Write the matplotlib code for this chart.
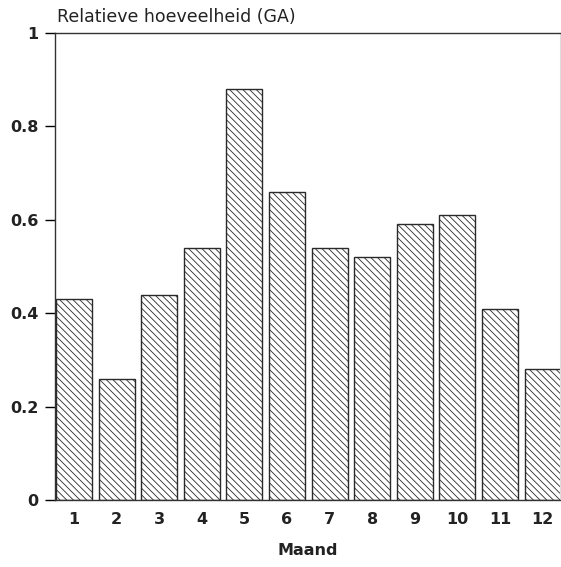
import matplotlib
matplotlib.use("Agg")
import matplotlib.pyplot as plt

months = [1, 2, 3, 4, 5, 6, 7, 8, 9, 10, 11, 12]
month_labels = ["1", "2", "3", "4", "5", "6", "7", "8", "9", "10", "11", "12"]
values = [0.43, 0.26, 0.44, 0.54, 0.88, 0.66, 0.54, 0.52, 0.59, 0.61, 0.41, 0.28]
y_ticks = [0, 0.2, 0.4, 0.6, 0.8, 1]
y_tick_labels = ["0", "0.2", "0.4", "0.6", "0.8", "1"]

plt.rcParams['font.family'] = ['DejaVu Sans']
plt.rcParams['hatch.linewidth'] = 0.6

fig = plt.figure(figsize=(5.61, 5.67), dpi=100)
ax = fig.add_axes([55 / 561, 67 / 567, 505 / 561, 467 / 567])

ax.bar(months, values, width=0.845, color='white', edgecolor='#2a2a2a',
       linewidth=1.0, hatch='\\\\\\\\\\')

ax.set_xlim(0.554, 12.41)
ax.set_ylim(0, 1)
ax.set_xticks(months)
ax.set_xticklabels(month_labels, fontsize=11.5, fontweight='bold', color='#222222')
ax.set_yticks(y_ticks)
ax.set_yticklabels(y_tick_labels, fontsize=11.5, fontweight='bold', color='#222222')
ax.tick_params(axis='x', length=0, pad=9)
ax.tick_params(axis='y', length=7, width=1, pad=5, direction='out')

for s in ['left', 'bottom', 'top']:
    ax.spines[s].set_linewidth(1.0)
    ax.spines[s].set_color('#333333')
ax.spines['right'].set_color('#dddddd')
ax.spines['right'].set_linewidth(0.8)

ax.set_xlabel("Maand", fontsize=11.5, fontweight='bold', color='#222222', labelpad=11)
fig.text(57 / 561, 1 - 17 / 567, "Relatieve hoeveelheid (GA)", fontsize=12.5,
         ha='left', va='center', color='#222222')

fig.savefig("out.png", dpi=100)
